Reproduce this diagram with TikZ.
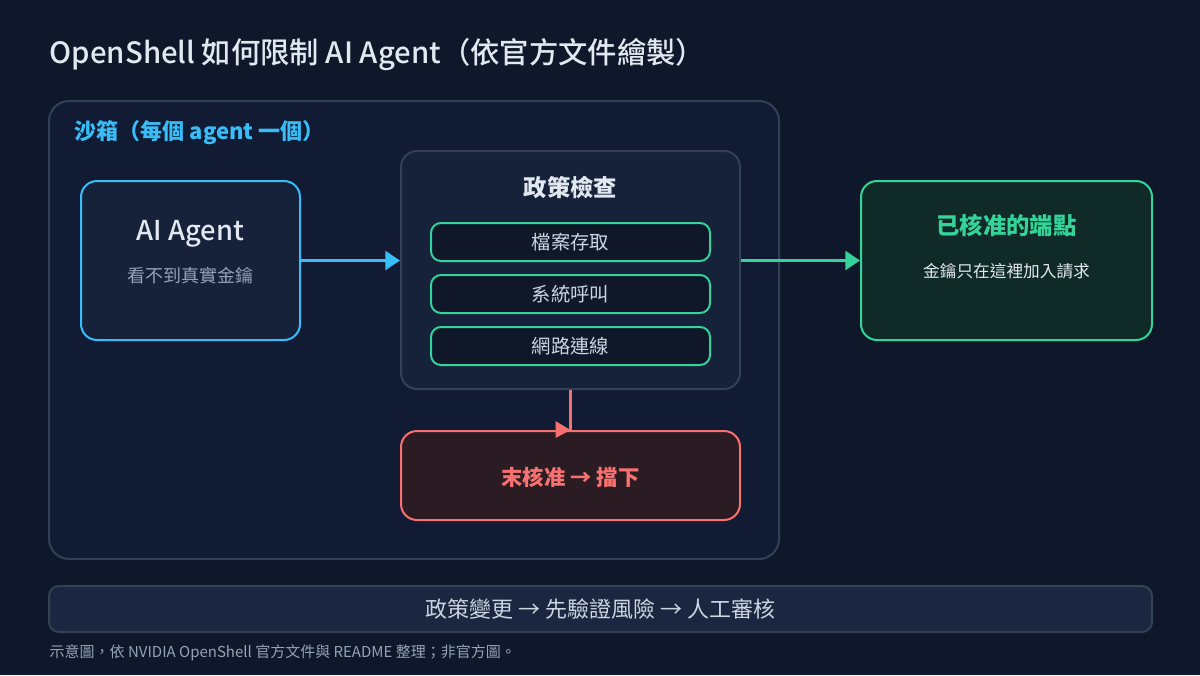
\documentclass[tikz,border=0pt]{standalone}
\usepackage{fontspec}
\setmainfont{Noto Sans CJK TC}
\newfontfamily\medfont{Noto Sans CJK TC Medium}
\usetikzlibrary{arrows.meta}
\definecolor{bgcol}{HTML}{0F172A}
\definecolor{sandfill}{HTML}{111B34}
\definecolor{boxfill}{HTML}{16213A}
\definecolor{innerfill}{HTML}{0F1729}
\definecolor{slateline}{HTML}{334155}
\definecolor{skyblue}{HTML}{38BDF8}
\definecolor{mintgreen}{HTML}{34D399}
\definecolor{okfill}{HTML}{102A27}
\definecolor{softred}{HTML}{F87171}
\definecolor{nofill}{HTML}{2B1B22}
\definecolor{barfill}{HTML}{1B2740}
\definecolor{lighttext}{HTML}{E2E8F0}
\definecolor{midtext}{HTML}{CBD5E1}
\definecolor{greytext}{HTML}{94A3B8}
\begin{document}
\begin{tikzpicture}[x=0.75pt,y=-0.75pt,
    panel/.style={draw=slateline,line width=1.5pt,rounded corners=12pt,inner sep=0pt},
    card/.style={line width=1.5pt,rounded corners=12pt,inner sep=0pt},
    checkbox/.style={draw=mintgreen,fill=innerfill,line width=1.5pt,rounded corners=7.5pt,
        minimum width=209.25pt,minimum height=28.5pt,inner sep=0pt,
        text=midtext,font=\fontsize{14.5}{17}\selectfont},
    flow/.style={line width=2.6pt,-{Triangle[length=11pt,width=14pt]}}]
    \fill[bgcol] (0,0) rectangle (1200,675);
    \useasboundingbox (0,0) rectangle (1200,675);
    % title
    \node[anchor=west,text=lighttext,font=\fontsize{22}{26}\medfont] (title) at (45,55)
        {OpenShell 如何限制 AI Agent（依官方文件繪製）};
    % sandbox
    \node[panel,fill=sandfill,rounded corners=15pt,minimum width=547.5pt,minimum height=343.5pt]
        (sandbox) at (414,330) {};
    \node[anchor=west,text=skyblue,font=\fontsize{16.5}{20}\bfseries] (sandlabel) at (70,133)
        {沙箱（每個 agent 一個）};
    % agent
    \node[card,draw=skyblue,fill=boxfill,minimum width=164.25pt,minimum height=119.25pt]
        (agent) at (190.5,260.5) {};
    \node[text=lighttext,font=\fontsize{20.5}{24}\medfont] (agentname) at (190.5,234) {AI Agent};
    \node[text=greytext,font=\fontsize{13.5}{16}\selectfont] (agentnote) at (190.5,276) {看不到真實金鑰};
    % policy check
    \node[panel,fill=boxfill,minimum width=254.25pt,minimum height=178.5pt]
        (policy) at (570.5,270) {};
    \node[text=lighttext,font=\fontsize{17.5}{20}\bfseries] (policyname) at (570.5,187) {政策檢查};
    \node[checkbox] (files) at (570.5,242) {檔案存取};
    \node[checkbox] (syscall) at (570.5,294) {系統呼叫};
    \node[checkbox] (network) at (570.5,346) {網路連線};
    % approved endpoint
    \node[card,draw=mintgreen,fill=okfill,minimum width=218.25pt,minimum height=119.25pt]
        (approved) at (1006.5,260.5) {};
    \node[text=mintgreen,font=\fontsize{17.5}{20}\bfseries] (approvedname) at (1006.5,226) {已核准的端點};
    \node[text=lighttext,font=\fontsize{12.5}{15}\selectfont] (approvednote) at (1006.5,271)
        {金鑰只在這裡加入請求};
    % rejected
    \node[card,draw=softred,fill=nofill,minimum width=254.25pt,minimum height=66.75pt]
        (reject) at (570.5,475.5) {};
    \node[text=softred,font=\fontsize{16}{19}\bfseries] (rejectname) at (570.5,477) {末核准 → 擋下};
    % connectors
    \draw[flow,skyblue] (agent.east) -- (agent.east -| policy.west);
    \draw[flow,mintgreen] (policy.east |- approved.west) -- (approved.west);
    \draw[softred,line width=2.6pt] (policy.south) -- (reject.north);
    \fill[softred] (reject.north) -- ++(-15,-9) -- ++(0,17) -- cycle;
    % bottom bar
    \node[panel,fill=barfill,rounded corners=7.5pt,minimum width=827.25pt,minimum height=34.5pt,
        text=midtext,font=\fontsize{16.5}{19}\selectfont] (review) at (600.5,609)
        {政策變更 → 先驗證風險 → 人工審核};
    \node[anchor=west,text=greytext,font=\fontsize{11.25}{13}\selectfont] (footnote) at (45,653)
        {示意圖，依 NVIDIA OpenShell 官方文件與 README 整理；非官方圖。};
\end{tikzpicture}
\end{document}
